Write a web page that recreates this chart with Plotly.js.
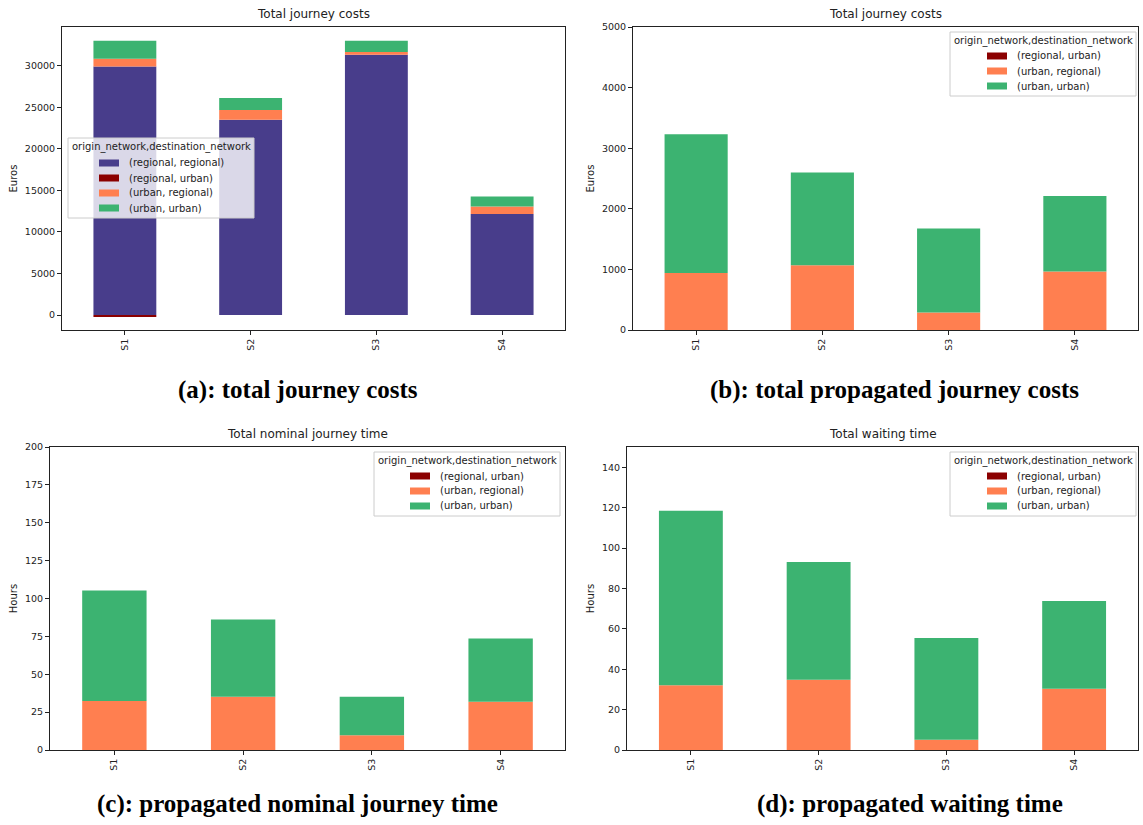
<!DOCTYPE html>
<html>
<head>
<meta charset="utf-8">
<script src="https://cdn.plot.ly/plotly-3.0.1.min.js"></script>
<style>html,body{margin:0;padding:0;background:#fff;}#chart{width:1143px;height:825px;}</style>
</head>
<body>
<div id="chart"></div>
<script>
// ---- data ----
const categories = ['S1', 'S2', 'S3', 'S4'];
const seriesNames = ['(regional, regional)', '(regional, urban)', '(urban, regional)', '(urban, urban)'];

// (a) total journey costs (Euros)
const costRegReg = [29900, 23500, 31300, 12150];
const costRegUrb = [-150, 0, 0, 0];
const costUrbReg = [920, 1160, 350, 920];
const costUrbUrb = [2180, 1440, 1350, 1200];

// (b) total propagated journey costs (Euros)
const propRegUrb = [0, 0, 0, 0];
const propUrbReg = [940, 1070, 290, 965];
const propUrbUrb = [2290, 1530, 1386, 1248];

// (c) propagated nominal journey time (Hours)
const nomRegUrb = [0, 0, 0, 0];
const nomUrbReg = [32.3, 35.2, 9.7, 31.9];
const nomUrbUrb = [73.0, 51.0, 25.5, 41.7];

// (d) propagated waiting time (Hours)
const waitRegUrb = [0, 0, 0, 0];
const waitUrbReg = [32.1, 34.8, 5.1, 30.3];
const waitUrbUrb = [86.3, 58.3, 50.4, 43.5];

const panelTitles = ['Total journey costs', 'Total journey costs', 'Total nominal journey time', 'Total waiting time'];
const captions = ['(a): total journey costs', '(b): total propagated journey costs', '(c): propagated nominal journey time', '(d): propagated waiting time'];
const yTitles = ['Euros', 'Euros', 'Hours', 'Hours'];
const legendTitle = 'origin_network,destination_network';

// ---- styling ----
const colors = {
  '(regional, regional)': '#483D8B',
  '(regional, urban)': '#8B0000',
  '(urban, regional)': '#FF7F50',
  '(urban, urban)': '#3CB371'
};
const W = 1143, H = 825;
const px = v => v / W;
const py = v => 1 - v / H;

// plot areas in pixels [left, right, top, bottom]
const boxes = [
  [62, 565, 27, 330],
  [633, 1138, 27, 330],
  [50, 565, 447, 750],
  [627, 1138, 447, 750]
];

const panels = [
  [[seriesNames[0], costRegReg], [seriesNames[1], costRegUrb], [seriesNames[2], costUrbReg], [seriesNames[3], costUrbUrb]],
  [[seriesNames[1], propRegUrb], [seriesNames[2], propUrbReg], [seriesNames[3], propUrbUrb]],
  [[seriesNames[1], nomRegUrb], [seriesNames[2], nomUrbReg], [seriesNames[3], nomUrbUrb]],
  [[seriesNames[1], waitRegUrb], [seriesNames[2], waitUrbReg], [seriesNames[3], waitUrbUrb]]
];

const yRanges = [[-1800, 34650], [0, 5000], [0, 200], [0, 150]];
const yDticks = [5000, 1000, 25, 20];

const font = {family: 'DejaVu Sans', size: 9.5, color: '#222'};
const traces = [];
panels.forEach((p, i) => {
  const sfx = i === 0 ? '' : String(i + 1);
  p.forEach(([name, vals]) => {
    traces.push({
      type: 'bar', name: name, x: categories, y: vals, width: 0.5,
      xaxis: 'x' + sfx, yaxis: 'y' + sfx, showlegend: false,
      marker: {color: colors[name], line: {width: 0}},
      hoverinfo: 'x+y+name'
    });
  });
});

const layout = {
  width: W, height: H,
  margin: {l: 0, r: 0, t: 0, b: 0},
  paper_bgcolor: '#fff', plot_bgcolor: '#fff',
  barmode: 'relative',
  font: font,
  showlegend: false,
  annotations: [],
  shapes: []
};

boxes.forEach((b, i) => {
  const sfx = i === 0 ? '' : String(i + 1);
  layout['xaxis' + sfx] = {
    domain: [px(b[0]), px(b[1])],
    anchor: 'y' + sfx,
    type: 'category', range: [-0.5, 3.5],
    showline: true, mirror: true, linecolor: '#222', linewidth: 1,
    ticks: 'outside', ticklen: 4, tickcolor: '#222', tickwidth: 1,
    tickangle: -90, showgrid: false, zeroline: false,
    tickfont: font, automargin: false, fixedrange: true
  };
  layout['yaxis' + sfx] = {
    domain: [py(b[3]), py(b[2])],
    anchor: 'x' + sfx,
    range: yRanges[i], dtick: yDticks[i], tick0: 0,
    tickformat: 'd', exponentformat: 'none', separatethousands: false,
    showline: true, mirror: true, linecolor: '#222', linewidth: 1,
    ticks: 'outside', ticklen: 4, tickcolor: '#222', tickwidth: 1,
    showgrid: false, zeroline: false, tickfont: font,
    title: {text: yTitles[i], font: {family: 'DejaVu Sans', size: 10, color: '#222'}, standoff: 5},
    automargin: false, fixedrange: true
  };
  layout.annotations.push({
    text: panelTitles[i], xref: 'paper', yref: 'paper',
    x: px((b[0] + b[1]) / 2), y: py(b[2] - 4), xanchor: 'center', yanchor: 'bottom',
    showarrow: false, font: {family: 'DejaVu Sans', size: 12, color: '#222'}
  });
});

// ---- legends (matplotlib style) ----
const legends = [
  {box: [68, 138, 254], title: 147, rows: [163, 178, 193, 208], sw: 99, tx: 127, names: seriesNames},
  {box: [950, 32, 1136], title: 41, rows: [56, 71, 86], sw: 987, tx: 1015, names: seriesNames.slice(1)},
  {box: [374, 452, 560], title: 461, rows: [476, 491, 506], sw: 410, tx: 438, names: seriesNames.slice(1)},
  {box: [950, 452, 1136], title: 461, rows: [476, 491, 506], sw: 987, tx: 1015, names: seriesNames.slice(1)}
];
legends.forEach(L => {
  const bottom = L.rows[L.rows.length - 1] + 10;
  layout.shapes.push({
    type: 'rect', xref: 'paper', yref: 'paper', layer: 'above',
    x0: px(L.box[0]), x1: px(L.box[2]), y0: py(L.box[1]), y1: py(bottom),
    fillcolor: 'rgba(255,255,255,0.8)', line: {color: '#cccccc', width: 1}
  });
  layout.annotations.push({
    text: legendTitle, xref: 'paper', yref: 'paper',
    x: px((L.box[0] + L.box[2]) / 2), y: py(L.title), xanchor: 'center', yanchor: 'middle',
    showarrow: false, font: {family: 'DejaVu Sans', size: 10, color: '#222'}
  });
  L.names.forEach((n, k) => {
    const yc = L.rows[k];
    layout.shapes.push({
      type: 'rect', xref: 'paper', yref: 'paper', layer: 'above',
      x0: px(L.sw), x1: px(L.sw + 20), y0: py(yc + 3.5), y1: py(yc - 3.5),
      fillcolor: colors[n], line: {width: 0}
    });
    layout.annotations.push({
      text: n, xref: 'paper', yref: 'paper',
      x: px(L.tx), y: py(yc), xanchor: 'left', yanchor: 'middle',
      showarrow: false, font: {family: 'DejaVu Sans', size: 10, color: '#222'}
    });
  });
});

const capPos = [[298, 390], [894, 390], [297, 804], [910, 804]];
captions.forEach((c, i) => {
  layout.annotations.push({
    text: '<b>' + c + '</b>', xref: 'paper', yref: 'paper',
    x: px(capPos[i][0]), y: py(capPos[i][1]), xanchor: 'center', yanchor: 'middle',
    showarrow: false, font: {family: 'Liberation Serif', size: 25, color: '#000'}
  });
});

Plotly.newPlot('chart', traces, layout, {displayModeBar: false});
</script>
</body>
</html>
